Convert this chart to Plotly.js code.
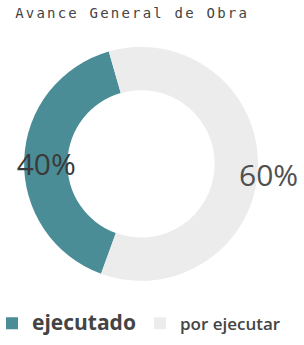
<!DOCTYPE html>
<html>
<head>
<meta charset="utf-8">
<script src="https://cdn.plot.ly/plotly-3.0.1.min.js"></script>
<style>html,body{margin:0;padding:0;background:#fff;}#chart{width:304px;height:345px;}</style>
</head>
<body>
<div id="chart"></div>
<script>
const chartTitle = 'Avance General de Obra';
const categories = ['ejecutado', 'por ejecutar'];
const values = [40, 60];
const colors = ['#4b8d97', '#ececec'];

const total = values.reduce((a, b) => a + b, 0);
const percentText = values.map(v => Math.round(v / total * 100) + '%');

const legendLabels = [
  '<span style="font-size:21px"><b>' + categories[0] + '</b></span>',
  categories[1]
];

const trace = {
  type: 'pie',
  labels: legendLabels,
  values: values,
  hole: 0.63,
  sort: false,
  direction: 'clockwise',
  rotation: -160,
  marker: {colors: colors, line: {width: 0}},
  textinfo: 'percent',
  texttemplate: '%{percent:.0%}',
  textposition: ['inside', 'none'],
  insidetextorientation: 'horizontal',
  insidetextfont: {family: 'Open Sans', size: 30, color: '#3a3a3a'},
  domain: {x: [0.079, 0.849], y: [0.186, 0.864]},
  showlegend: true,
  hoverinfo: 'label+percent'
};

const layout = {
  width: 304,
  height: 345,
  margin: {l: 0, r: 0, t: 0, b: 0, autoexpand: false},
  paper_bgcolor: '#ffffff',
  plot_bgcolor: '#ffffff',
  title: {
    text: '<span style="letter-spacing:2.2px">' + chartTitle + '</span>',
    font: {family: 'DejaVu Sans Mono', size: 14, color: '#444444'},
    x: 0.05, xanchor: 'left', xref: 'paper',
    y: 0.962, yanchor: 'middle', yref: 'paper'
  },
  uniformtext: {mode: 'show', minsize: 30},
  annotations: [{
    text: percentText[1],
    xref: 'paper', yref: 'paper',
    x: 0.882, y: 0.493, xanchor: 'center', yanchor: 'middle',
    showarrow: false,
    font: {family: 'Open Sans', size: 30, color: '#505050'}
  }],
  legend: {
    orientation: 'h',
    x: 0, xanchor: 'left',
    y: 0.062, yanchor: 'middle',
    indentation: -8,
    font: {family: 'Open Sans', size: 17, color: '#444444', weight: 600},
    entrywidth: 111,
    entrywidthmode: 'pixels',
    itemwidth: 30,
    valign: 'bottom',
    bgcolor: 'rgba(0,0,0,0)'
  }
};

Plotly.newPlot('chart', [trace], layout, {displayModeBar: false, staticPlot: true});
</script>
</body>
</html>
